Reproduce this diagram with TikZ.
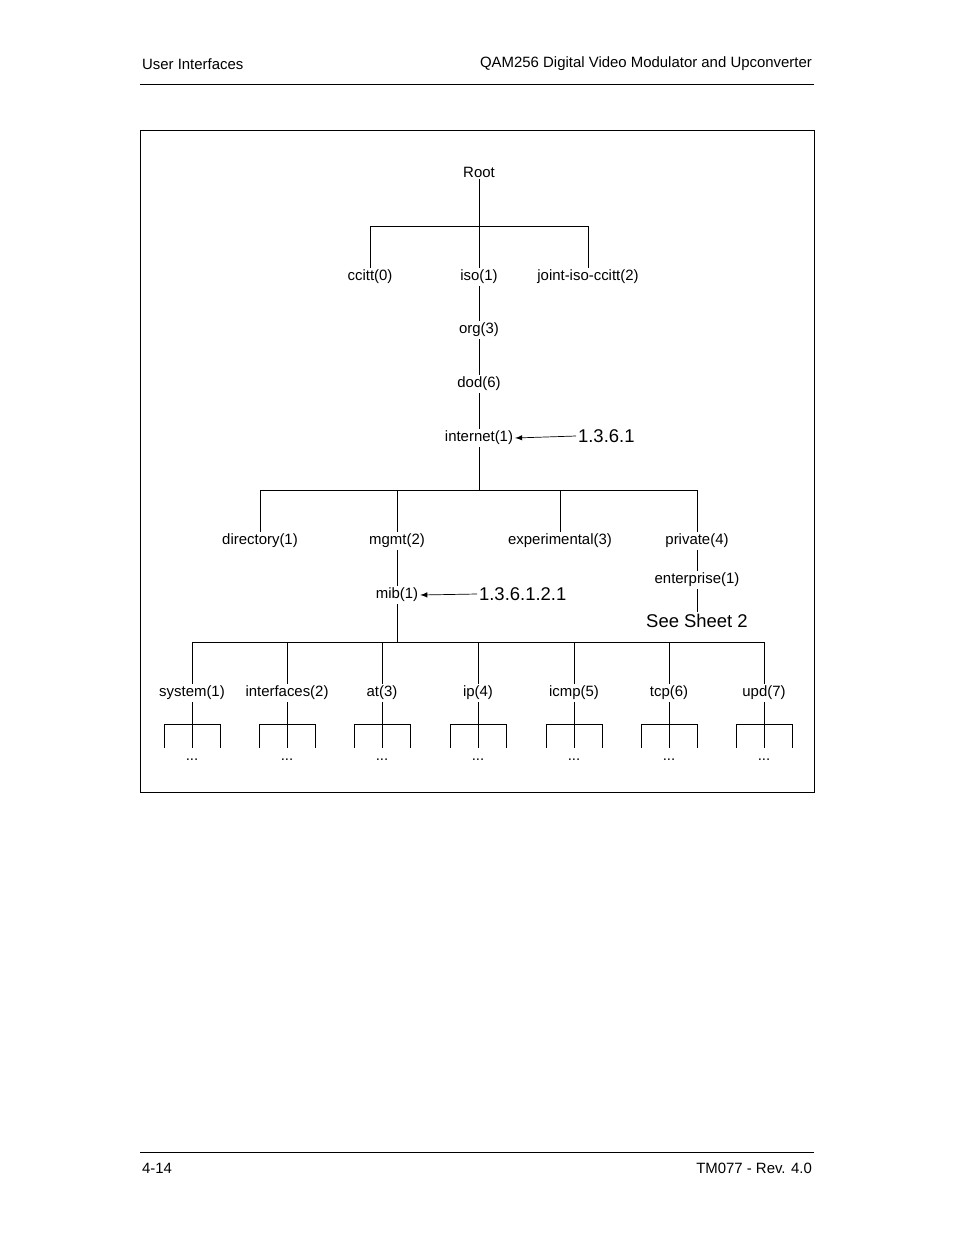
\documentclass[tikz,border=0pt]{standalone}
\usepackage{fontspec}
\setmainfont{Liberation Sans}
\begin{document}
\begin{tikzpicture}[x=0.02cm,y=-0.02cm, every node/.style={font=\fontsize{8.5}{10}\selectfont, inner sep=1pt},
  oid/.style={font=\fontsize{10.5}{12}\selectfont}]
\useasboundingbox (0,0) rectangle (954,1235);
% page header and footer
\node[anchor=west] (hl) at (140,64) {User Interfaces};
\node[anchor=east] (hr) at (814,64) {QAM256 Digital Video Modulator and Upconverter};
\draw[line width=0.5pt] (140,84) -- (814,84);
\draw[line width=0.5pt] (140,1152) -- (814,1152);
\node[anchor=west] (fl) at (140,1168) {4-14};
\node[anchor=east] (fr) at (814,1168) {TM077 - Rev. 4.0};
\draw[line width=0.5pt] (140,130) rectangle (814,792);
% top of tree
\node (root) at (479,172) {Root};
\node (ccitt) at (370,277) {ccitt(0)};
\node (iso) at (479,277) {iso(1)};
\node (joint) at (588,277) {joint-iso-ccitt(2)};
\draw (root.south) -- (479,226);
\draw (ccitt.north) -- (370,226) -- (588,226) -- (joint.north);
\draw (479,226) -- (iso.north);
\node (org) at (479,330) {org(3)};
\node (dod) at (479,384) {dod(6)};
\node (internet) at (479,438) {internet(1)};
\draw (iso) -- (org);
\draw (org) -- (dod);
\draw (dod) -- (internet);
\node[oid,anchor=west] (oidA) at (576,436) {1.3.6.1};
\draw[-latex] (oidA.west) -- (internet.east);
% second level
\node (directory) at (260,541) {directory(1)};
\node (mgmt) at (397,541) {mgmt(2)};
\node (experimental) at (560,541) {experimental(3)};
\node (private) at (697,541) {private(4)};
\draw (internet.south) -- (479,490);
\draw (directory.north) -- (260,490) -- (697,490) -- (private.north);
\draw (397,490) -- (mgmt.north);
\draw (560,490) -- (experimental.north);
\node (enterprise) at (697,580) {enterprise(1)};
\node[oid] (sheet) at (697,621) {See Sheet 2};
\draw (private) -- (enterprise);
\draw (enterprise) -- (sheet);
\node (mib) at (397,595) {mib(1)};
\draw (mgmt) -- (mib);
\node[oid,anchor=west] (oidB) at (477,594) {1.3.6.1.2.1};
\draw[-latex] (oidB.west) -- (mib.east);
% mib groups
\draw (mib.south) -- (397,642);
\draw (192,642) -- (764,642);
\foreach \x/\name/\txt in {192/system/system(1),287/interfaces/interfaces(2),382/at/at(3),
  478/ip/ip(4),574/icmp/icmp(5),669/tcp/tcp(6),764/upd/upd(7)} {
  \node (\name) at (\x,693) {\txt};
  \draw (\x,642) -- (\name.north);
  \draw (\name.south) -- (\x,748);
  \draw (\x-28,748) -- (\x-28,724) -- (\x+28,724) -- (\x+28,748);
  \node (\name dots) at (\x,760) {...};
}
\end{tikzpicture}
\end{document}
